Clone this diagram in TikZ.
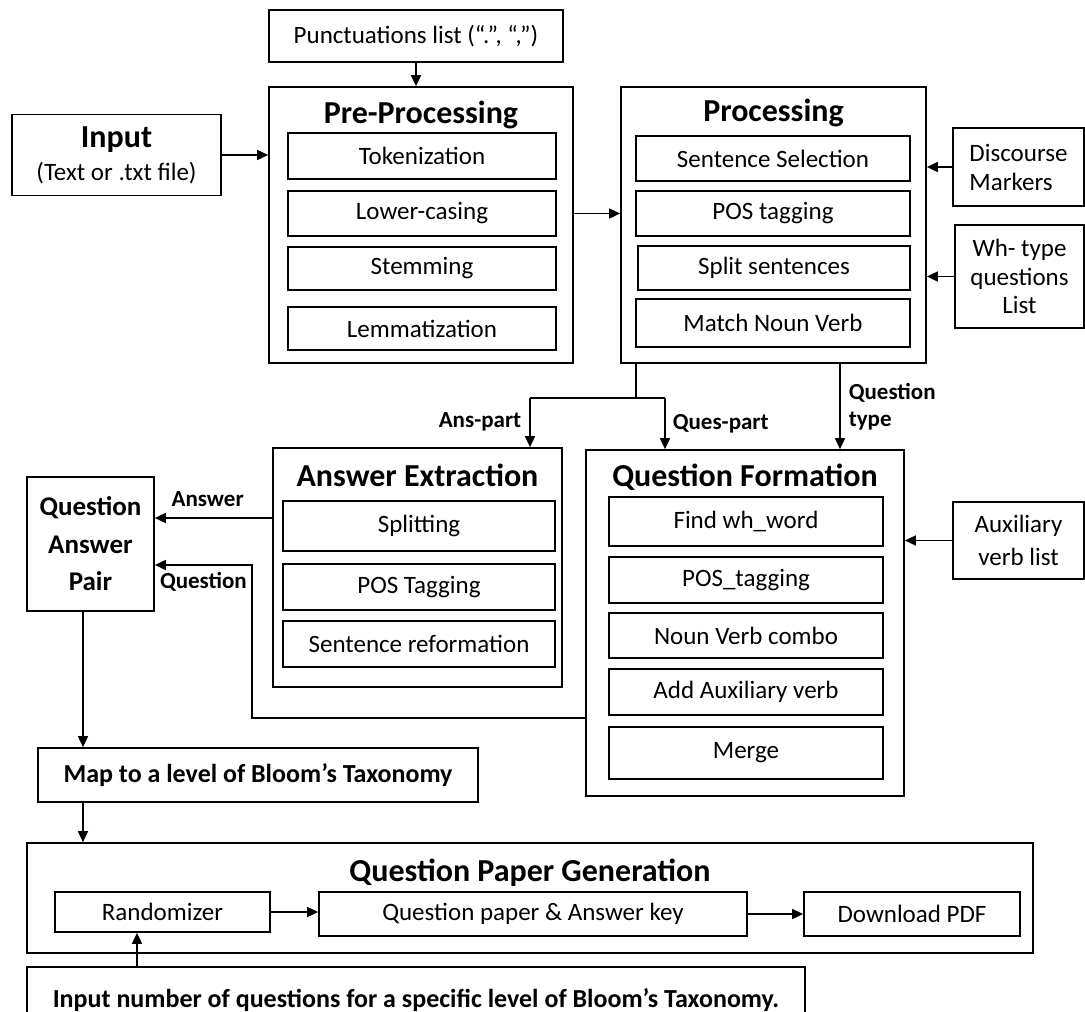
\documentclass[tikz,border=0pt]{standalone}
\usepackage{fontspec}
\setmainfont{Carlito}
\usetikzlibrary{arrows.meta}

\newcommand{\qbody}{\fontsize{25}{30}\selectfont}
\newcommand{\qhead}{\fontsize{32}{36}\selectfont\bfseries}
\newcommand{\qtag}{\fontsize{23}{27}\selectfont\bfseries}

\begin{document}
\begin{tikzpicture}[x=1pt,y=-1pt,line width=1.7pt,
	>={Triangle[length=11pt,width=10pt]},
	box/.style={draw,inner sep=0pt,font=\qbody,align=center},
	sz/.style 2 args={minimum width=#1pt,minimum height=#2pt},
	head/.style={inner sep=0pt,font=\qhead},
	tag/.style={inner sep=0pt,font=\qtag}]
	\fill[white] (0,0) rectangle (1085,1012);
	\useasboundingbox (0,0) rectangle (1085,1012);
	% top row
	\node[box,sz={294}{52}] (punct) at (416,36) {Punctuations list (“.”, “,”)};
	\node[box,sz={209}{81}] (input) at (116.5,155) {{\qhead Input}\\[3pt](Text or .txt file)};
	\node[box,sz={304}{276}] (pre) at (421,225) {};
	\node[head] (pretitle) at (421,115) {Pre-Processing};
	\node[box,sz={268}{46}] (tok) at (422,156) {Tokenization};
	\node[box,sz={268}{45}] (lower) at (422,213.5) {Lower-casing};
	\node[box,sz={268}{43}] (stem) at (422,268.5) {Stemming};
	\node[box,sz={268}{43}] (lemma) at (422,328.5) {Lemmatization};
	\node[box,sz={305}{276}] (proc) at (773.5,225) {};
	\node[head] (proctitle) at (773.5,113) {Processing};
	\node[box,sz={274}{45}] (select) at (773,158.5) {Sentence Selection};
	\node[box,sz={274}{45}] (postag) at (773,213.5) {POS tagging};
	\node[box,sz={272}{44}] (splitsent) at (774,268) {Split sentences};
	\node[box,sz={274}{48}] (match) at (773,323) {Match Noun Verb};
	\node[box,sz={131}{78},align=left,font=\fontsize{25}{29}\selectfont] (disc) at (1018.5,167) {Discourse\\Markers};
	\node[box,sz={129}{103},font=\fontsize{25}{28.5}\selectfont] (wh) at (1019.5,276.5) {Wh- type\\questions\\List};
	% middle row
	\node[box,sz={289}{239}] (ae) at (417.5,567.5) {};
	\node[head] (aetitle) at (417.5,475) {Answer Extraction};
	\node[box,sz={272}{50}] (splitting) at (419,526) {Splitting};
	\node[box,sz={272}{46}] (aepos) at (419,587) {POS Tagging};
	\node[box,sz={272}{46}] (reform) at (419,644) {Sentence reformation};
	\node[box,sz={318}{346}] (qf) at (745,623) {};
	\node[head] (qftitle) at (745,477) {Question Formation};
	\node[box,sz={274}{49}] (findwh) at (746,521.5) {Find wh\_word};
	\node[box,sz={274}{46}] (qfpos) at (746,580) {POS\_tagging};
	\node[box,sz={274}{45}] (combo) at (746,635.5) {Noun Verb combo};
	\node[box,sz={274}{46}] (addaux) at (746,692) {Add Auxiliary verb};
	\node[box,sz={274}{52}] (merge) at (746,753) {Merge};
	\node[box,sz={131}{77},font=\fontsize{25}{33}\selectfont] (aux) at (1018.5,540.5) {Auxiliary\\verb list};
	\node[box,sz={127}{134},font=\fontsize{27}{37.5}\selectfont\bfseries] (qap) at (90.5,544) {Question\\Answer\\Pair};
	\node[box,sz={440}{54},font=\fontsize{26}{30}\selectfont\bfseries] (map) at (258,775) {Map to a level of Bloom’s Taxonomy};
	% bottom
	\node[box,sz={1006}{110}] (qpg) at (530,898) {};
	\node[head] (qpgtitle) at (530,873) {Question Paper Generation};
	\node[box,sz={215}{40}] (rand) at (162.5,912) {Randomizer};
	\node[box,sz={428}{44}] (qp) at (533,914) {Question paper \& Answer key};
	\node[box,sz={216}{44}] (dl) at (912,914) {Download PDF};
	\node[box,sz={778}{66},font=\fontsize{26}{30}\selectfont\bfseries] (innum) at (416,1000) {Input number of questions for a specific level of Bloom’s Taxonomy.};
	% connectors
	\coordinate (fork) at (636,398);
	\coordinate (anstop) at (530,398);
	\coordinate (questop) at (665,398);
	\coordinate (qtype) at (840,0);
	\coordinate (ansrow) at (0,518);
	\coordinate (qrow) at (0,565);
	\coordinate (qbend) at (252,718);
	\coordinate (mapx) at (83,0);
	\coordinate (randx) at (137,0);
	\draw[->] (punct.south) -- (punct.south |- pre.north);
	\draw[->] (input.east) -- (input.east -| pre.west);
	\draw[->] (pre.east |- lower) -- (proc.west |- lower);
	\draw[->] (disc.west) -- (disc.west -| proc.east);
	\draw[->] (wh.west) -- (wh.west -| proc.east);
	\draw (proc.south -| fork) -- (fork);
	\draw (anstop) -- (questop);
	\draw[->] (anstop) -- (anstop |- ae.north) node[tag,pos=0.48,left=8pt] {Ans-part};
	\draw[->] (questop) -- (questop |- qf.north) node[tag,pos=0.5,right=7pt] {Ques-part};
	\draw[->] (proc.south -| qtype) -- (qf.north -| qtype) node[tag,align=left,midway,right=8pt] {Question\\type};
	\draw[->] (aux.west) -- (aux.west -| qf.east);
	\draw[->] (ae.west |- ansrow) -- (qap.east |- ansrow) node[tag,pos=0.55,above=10pt] {Answer};
	\draw[->] (qf.west |- qbend) -- (qbend) -- (qbend |- qrow) -- (qap.east |- qrow) node[tag,midway,below=6pt] {Question};
	\draw[->] (qap.south -| mapx) -- (map.north -| mapx);
	\draw[->] (map.south -| mapx) -- (qpg.north -| mapx);
	\draw[->] (rand.east) -- (rand.east -| qp.west);
	\draw[->] (qp.east) -- (qp.east -| dl.west);
	\draw[->] (innum.north -| randx) -- (rand.south -| randx);
\end{tikzpicture}
\end{document}
